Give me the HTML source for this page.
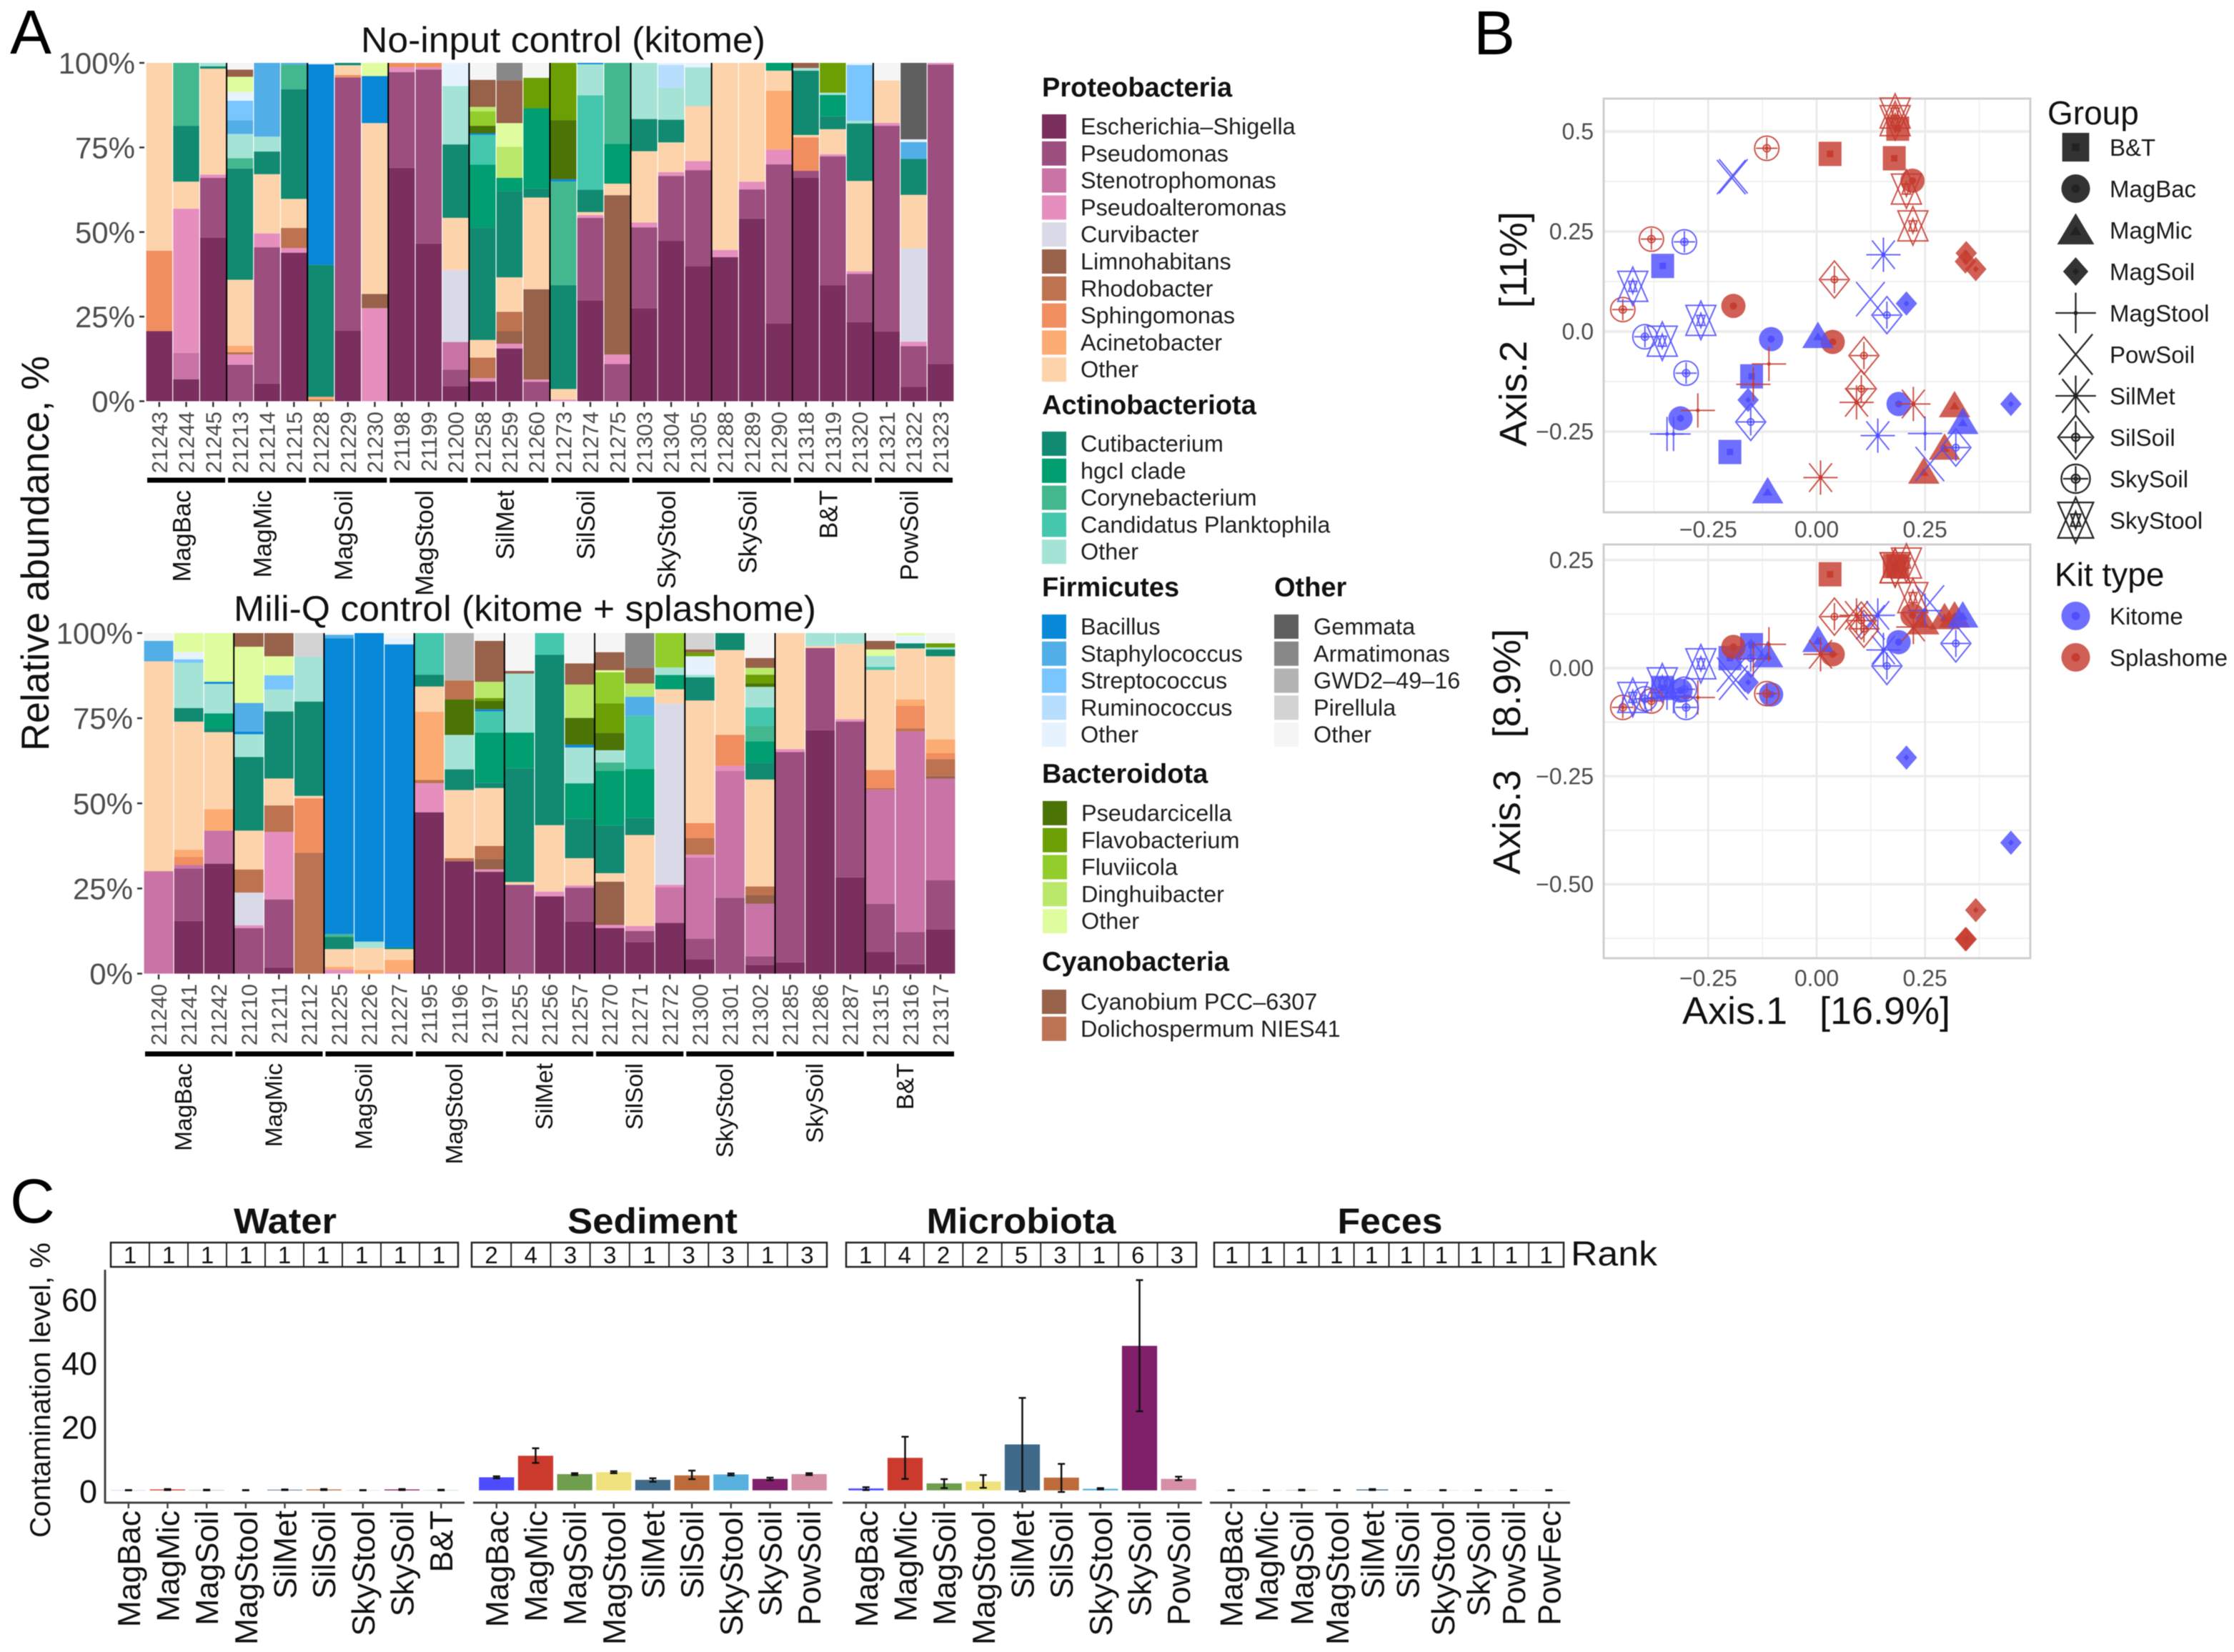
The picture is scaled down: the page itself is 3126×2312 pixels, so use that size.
<!DOCTYPE html>
<html lang="en">
<head>
<meta charset="utf-8">
<title>Contamination analysis figure</title>
<style>
html,body{margin:0;padding:0;background:#fff}
svg{display:block;filter:blur(.6px)}
text{font-family:"Liberation Sans",Arial,sans-serif}
.tax{font-size:32.4px;fill:#1f1f1f}
.hd{font-size:38px;font-weight:700;fill:#111}
.leg{font-size:33px;fill:#1a1a1a}
.lt{font-size:46px;fill:#111}
.panel{font-size:87px;fill:#000}
.ttl{font-size:50px;fill:#111}
.axt{font-size:54px;fill:#111}
</style>
</head>
<body>
<svg id="fig" xmlns="http://www.w3.org/2000/svg" width="3126" height="2312" viewBox="0 0 3126 2312">
<rect width="3126" height="2312" fill="#fff"/>

<text class="panel" x="14" y="75">A</text>
<text class="panel" x="2062" y="76">B</text>
<text class="panel" x="14" y="1711">C</text>

<text class="ttl" x="505" y="73" textLength="566" lengthAdjust="spacingAndGlyphs">No-input control (kitome)</text>
<text class="ttl" x="327" y="869" textLength="815" lengthAdjust="spacingAndGlyphs">Mili-Q control (kitome + splashome)</text>
<text transform="translate(68,1051) rotate(-90)" font-size="55" fill="#111" textLength="553" lengthAdjust="spacingAndGlyphs">Relative abundance, %</text>

<g id="stackTop"></g>
<g id="stackBottom"></g>

<g>
<text class="hd" x="1458" y="135">Proteobacteria</text>
<g><rect x="1458" y="160" width="34" height="34" fill="#7b2f5e"/><text class="tax" x="1512" y="188">Escherichia–Shigella</text></g>
<g><rect x="1458" y="197.8" width="34" height="34" fill="#9c4f7e"/><text class="tax" x="1512" y="225.8">Pseudomonas</text></g>
<g><rect x="1458" y="235.6" width="34" height="34" fill="#c973a6"/><text class="tax" x="1512" y="263.6">Stenotrophomonas</text></g>
<g><rect x="1458" y="273.4" width="34" height="34" fill="#e68fbf"/><text class="tax" x="1512" y="301.4">Pseudoalteromonas</text></g>
<g><rect x="1458" y="311.2" width="34" height="34" fill="#d9d9e8"/><text class="tax" x="1512" y="339.2">Curvibacter</text></g>
<g><rect x="1458" y="349" width="34" height="34" fill="#97614a"/><text class="tax" x="1512" y="377">Limnohabitans</text></g>
<g><rect x="1458" y="386.8" width="34" height="34" fill="#bd7250"/><text class="tax" x="1512" y="414.8">Rhodobacter</text></g>
<g><rect x="1458" y="424.6" width="34" height="34" fill="#f08e60"/><text class="tax" x="1512" y="452.6">Sphingomonas</text></g>
<g><rect x="1458" y="462.4" width="34" height="34" fill="#fcac72"/><text class="tax" x="1512" y="490.4">Acinetobacter</text></g>
<g><rect x="1458" y="500.2" width="34" height="34" fill="#fdd3ac"/><text class="tax" x="1512" y="528.2">Other</text></g>

<text class="hd" x="1458" y="579.5">Actinobacteriota</text>
<g><rect x="1458" y="604" width="34" height="34" fill="#128a72"/><text class="tax" x="1512" y="632">Cutibacterium</text></g>
<g><rect x="1458" y="641.8" width="34" height="34" fill="#009e70"/><text class="tax" x="1512" y="669.8">hgcI clade</text></g>
<g><rect x="1458" y="679.6" width="34" height="34" fill="#43b88f"/><text class="tax" x="1512" y="707.6">Corynebacterium</text></g>
<g><rect x="1458" y="717.4" width="34" height="34" fill="#45c7ad"/><text class="tax" x="1512" y="745.4">Candidatus Planktophila</text></g>
<g><rect x="1458" y="755.2" width="34" height="34" fill="#a4e3d5"/><text class="tax" x="1512" y="783.2">Other</text></g>

<text class="hd" x="1458" y="834.5">Firmicutes</text>
<g><rect x="1458" y="860" width="34" height="34" fill="#0a88d8"/><text class="tax" x="1512" y="888">Bacillus</text></g>
<g><rect x="1458" y="897.8" width="34" height="34" fill="#52aee6"/><text class="tax" x="1512" y="925.8">Staphylococcus</text></g>
<g><rect x="1458" y="935.6" width="34" height="34" fill="#78c6fd"/><text class="tax" x="1512" y="963.6">Streptococcus</text></g>
<g><rect x="1458" y="973.4" width="34" height="34" fill="#b8defd"/><text class="tax" x="1512" y="1001.4">Ruminococcus</text></g>
<g><rect x="1458" y="1011.2" width="34" height="34" fill="#e6f3fe"/><text class="tax" x="1512" y="1039.2">Other</text></g>

<text class="hd" x="1783" y="834.5">Other</text>
<g><rect x="1783" y="860" width="34" height="34" fill="#5f5f5f"/><text class="tax" x="1838" y="888">Gemmata</text></g>
<g><rect x="1783" y="897.8" width="34" height="34" fill="#888888"/><text class="tax" x="1838" y="925.8">Armatimonas</text></g>
<g><rect x="1783" y="935.6" width="34" height="34" fill="#b3b3b3"/><text class="tax" x="1838" y="963.6">GWD2–49–16</text></g>
<g><rect x="1783" y="973.4" width="34" height="34" fill="#d3d3d3"/><text class="tax" x="1838" y="1001.4">Pirellula</text></g>
<g><rect x="1783" y="1011.2" width="34" height="34" fill="#f5f5f5"/><text class="tax" x="1838" y="1039.2">Other</text></g>

<text class="hd" x="1458" y="1095.6">Bacteroidota</text>
<g><rect x="1459" y="1121" width="34" height="34" fill="#4c7306"/><text class="tax" x="1513" y="1149">Pseudarcicella</text></g>
<g><rect x="1459" y="1158.8" width="34" height="34" fill="#6b9f04"/><text class="tax" x="1513" y="1186.8">Flavobacterium</text></g>
<g><rect x="1459" y="1196.6" width="34" height="34" fill="#93cd2b"/><text class="tax" x="1513" y="1224.6">Fluviicola</text></g>
<g><rect x="1459" y="1234.4" width="34" height="34" fill="#bae86a"/><text class="tax" x="1513" y="1262.4">Dinghuibacter</text></g>
<g><rect x="1459" y="1272.2" width="34" height="34" fill="#dffd9e"/><text class="tax" x="1513" y="1300.2">Other</text></g>

<text class="hd" x="1458" y="1358.6">Cyanobacteria</text>
<g><rect x="1458" y="1385" width="34" height="34" fill="#98624b"/><text class="tax" x="1512" y="1413">Cyanobium PCC–6307</text></g>
<g><rect x="1458" y="1422.8" width="34" height="34" fill="#bc7354"/><text class="tax" x="1512" y="1450.8">Dolichospermum NIES41</text></g>
</g>

<g id="pcoaTop"></g>
<g id="pcoaBottom"></g>
<text class="axt" transform="translate(2136,625) rotate(-90)" textLength="329" lengthAdjust="spacingAndGlyphs">Axis.2&#160;&#160;&#160;[11%]</text>
<text class="axt" transform="translate(2127,1224) rotate(-90)" textLength="344" lengthAdjust="spacingAndGlyphs">Axis.3&#160;&#160;&#160;[8.9%]</text>
<text class="axt" x="2354" y="1433" textLength="375" lengthAdjust="spacingAndGlyphs">Axis.1&#160;&#160;&#160;[16.9%]</text>

<text class="lt" x="2865" y="174">Group</text>
<g id="groupLegend"></g>
<text class="lt" x="2875" y="820">Kit type</text>
<g id="kitLegend"></g>

<text x="399" y="1726" text-anchor="middle" font-size="50" font-weight="700" fill="#111" textLength="144" lengthAdjust="spacingAndGlyphs">Water</text>
<text x="913" y="1726" text-anchor="middle" font-size="50" font-weight="700" fill="#111" textLength="238" lengthAdjust="spacingAndGlyphs">Sediment</text>
<text x="1429" y="1726" text-anchor="middle" font-size="50" font-weight="700" fill="#111" textLength="265" lengthAdjust="spacingAndGlyphs">Microbiota</text>
<text x="1945" y="1726" text-anchor="middle" font-size="50" font-weight="700" fill="#111" textLength="147" lengthAdjust="spacingAndGlyphs">Feces</text>
<text x="2198" y="1771" font-size="48" fill="#111" textLength="121" lengthAdjust="spacingAndGlyphs">Rank</text>
<text transform="translate(70,2152) rotate(-90)" font-size="40" fill="#111" textLength="413" lengthAdjust="spacingAndGlyphs">Contamination level, %</text>
<g id="contam"></g>
</svg>

<script>
/* ---------- Panel A data ---------- */
const taxonColors = ['#7b2f5e','#9c4f7e','#c973a6','#e68fbf','#d9d9e8','#97614a','#bd7250','#f08e60','#fcac72','#fdd3ac','#128a72','#009e70','#43b88f','#45c7ad','#a4e3d5','#0a88d8','#52aee6','#78c6fd','#b8defd','#e6f3fe','#4c7306','#6b9f04','#93cd2b','#bae86a','#dffd9e','#98624b','#bc7354','#5f5f5f','#888888','#b3b3b3','#d3d3d3','#f5f5f5'];
const percentTicks = [0,25,50,75,100];
const groupsTop = ['MagBac','MagMic','MagSoil','MagStool','SilMet','SilSoil','SkyStool','SkySoil','B&T','PowSoil'];
const groupsBottom = ['MagBac','MagMic','MagSoil','MagStool','SilMet','SilSoil','SkyStool','SkySoil','B&T'];
const samplesTop = ['21243','21244','21245','21213','21214','21215','21228','21229','21230','21198','21199','21200','21258','21259','21260','21273','21274','21275','21303','21304','21305','21288','21289','21290','21318','21319','21320','21321','21322','21323'];
const samplesBottom = ['21240','21241','21242','21210','21211','21212','21225','21226','21227','21195','21196','21197','21255','21256','21257','21270','21271','21272','21300','21301','21302','21285','21286','21287','21315','21316','21317'];
/* each sample: [taxon index, percent] from the bottom of the bar upward */
const stacksTop = [
[[0,20.7],[7,23.8],[9,55.5]],
[[0,6.5],[2,7.8],[3,42.6],[9,8],[10,16.5],[12,18.6]],
[[0,48.4],[1,17.6],[3,1],[9,31.3],[10,.7],[14,1]],
[[1,10.8],[3,3],[6,.7],[8,1.9],[9,19.5],[10,32.9],[12,3],[14,7.2],[16,4],[17,5.8],[19,2.6],[24,4.5],[5,2.1],[31,2]],
[[0,5.2],[1,40.3],[3,4.1],[9,17.5],[10,6.7],[14,4.4],[16,21.8]],
[[0,43.9],[3,1.4],[6,5.9],[9,8.6],[10,32.4],[12,7.3],[16,.5]],
[[6,.5],[8,.8],[10,39],[15,59.3],[19,.4]],
[[0,20.8],[1,74.9],[7,.7],[9,2.9],[10,.7]],
[[3,27.5],[5,4.2],[9,50.5],[15,13.9],[24,3.9]],
[[0,69],[1,28.3],[3,1.4],[7,1.3]],
[[0,46.6],[1,51.4],[3,.7],[7,1.3]],
[[0,4.5],[1,4.8],[2,8.2],[4,21.3],[9,15.4],[10,21.7],[14,17.3],[19,6.8]],
[[0,5.8],[3,1],[6,6.1],[9,5.2],[10,33.2],[11,18.6],[13,8.8],[15,.5],[20,2.2],[22,4.3],[23,1.3],[5,8],[31,5]],
[[0,15.6],[3,1.4],[5,3.7],[6,5.7],[9,10.2],[10,25.4],[11,4],[23,9.2],[24,7],[5,12.6],[28,5.2]],
[[1,5.7],[3,.7],[5,26.7],[9,27.1],[10,2.7],[11,23.7],[21,9],[31,4.4]],
[[3,.5],[9,3.1],[10,30.7],[12,30.6],[15,.7],[20,17.4],[21,17]],
[[0,29.8],[1,24.4],[3,.8],[9,.9],[10,6.6],[13,27.9],[14,9.2],[15,.4]],
[[1,11],[3,2.8],[5,47.1],[9,3.4],[11,11.8],[12,23.9]],
[[0,27.5],[1,23.9],[3,1.4],[9,21.1],[10,9.5],[14,16.6]],
[[0,47.4],[1,19.2],[3,1.1],[9,8.8],[10,6.7],[14,9.4],[18,6.8],[19,.6]],
[[0,39.9],[1,28.4],[3,2.7],[9,16.2],[14,11.5],[19,1.3]],
[[0,42.6],[3,2.1],[9,55.3]],
[[0,54],[1,8.6],[3,2.3],[9,35.1]],
[[0,23],[1,47],[3,4.4],[8,17.4],[9,5.9],[11,2.3]],
[[0,66],[1,2.1],[7,9.9],[9,.7],[10,19],[14,.8],[5,1.5]],
[[0,34.3],[1,38.1],[3,.6],[9,7.4],[10,3.8],[11,6.3],[14,.7],[21,8.8]],
[[0,23.4],[1,14.2],[3,.8],[9,26.7],[10,17],[14,.8],[17,16.5],[19,.6]],
[[0,20.6],[1,60.8],[3,.9],[9,12.5],[31,5.2]],
[[0,4.3],[1,12],[3,1.3],[4,27.6],[9,15.8],[10,10.6],[16,5],[19,.8],[27,22.6]],
[[0,11],[1,88.5],[3,.5]]
];
const stacksBottom = [
[[2,30.1],[9,61.6],[16,6],[31,2.3]],
[[0,15.5],[1,15.4],[2,1],[7,2.4],[8,2.1],[9,37.6],[10,4],[14,13.3],[17,1],[19,2.1],[24,5.6]],
[[0,32.3],[2,9.7],[8,6.3],[9,22.6],[10,1.1],[11,4.4],[14,8.7],[15,.6],[24,14.3]],
[[1,13.4],[3,.8],[4,9.6],[6,6.8],[9,11.4],[10,21.6],[14,6.7],[15,.8],[16,8.4],[24,16.5],[5,4]],
[[0,1.7],[1,20.1],[3,19.8],[6,7.8],[9,7.9],[10,19.7],[14,6.4],[17,4.2],[24,5.6],[5,6.8]],
[[26,35.5],[7,16],[9,.7],[10,27.7],[14,13.2],[30,6.9]],
[[3,1.2],[8,.8],[9,5.2],[10,3.6],[12,.8],[15,86.9],[16,1],[31,.5]],
[[8,1.1],[9,6.4],[14,1.9],[15,90.6]],
[[3,.3],[8,3.7],[9,3.2],[10,.5],[15,89],[19,1.9],[31,1.4]],
[[0,47.4],[3,8.5],[6,1],[8,20],[9,7.4],[10,3.5],[13,12.2]],
[[0,33],[6,.9],[9,20],[10,6.1],[14,10.1],[20,10.4],[6,5.6],[29,13.9]],
[[0,29.9],[3,.7],[5,3],[6,3.9],[9,17],[10,1.5],[11,14.8],[13,6.2],[15,.6],[20,2.5],[21,.8],[23,4.8],[5,12],[31,2.3]],
[[1,26.1],[9,.8],[10,33.4],[11,10.5],[14,17.3],[5,.8],[31,11.1]],
[[0,22.7],[3,1.4],[9,19.5],[10,50],[13,6.4]],
[[0,15.3],[1,9.9],[3,.7],[9,8],[10,11.6],[11,10.4],[14,10.5],[15,.8],[20,7.9],[23,9.8],[5,6.2],[31,8.9]],
[[0,13.4],[3,.9],[5,12.7],[9,2.5],[10,14],[11,16],[12,2.5],[14,3.6],[20,5.1],[21,8.7],[22,9.1],[24,.6],[5,5.3],[31,5.6]],
[[0,9.3],[1,3.2],[3,1.5],[9,26.7],[10,5],[11,14.4],[13,15.6],[16,5.6],[23,3.9],[5,4.6],[28,10.2]],
[[0,14.9],[2,10.4],[3,.8],[4,53.2],[9,4.2],[11,4.2],[14,2.2],[22,10.1]],
[[0,4.2],[1,6],[2,23.9],[3,.8],[6,4.9],[7,4.4],[9,36],[10,6.8],[14,.8],[19,5.4],[21,1.1],[5,.9],[30,4.8]],
[[1,22.3],[2,37.2],[3,1.5],[7,9.1],[9,24.9],[10,5]],
[[0,2.6],[1,2.5],[2,15.4],[5,2.5],[6,2.6],[9,31.4],[10,4.9],[11,6.3],[12,4.6],[13,5.4],[14,6],[20,1],[21,2.6],[23,2],[5,2.9],[31,7.3]],
[[0,3.3],[1,61.8],[3,.8],[9,34.1]],
[[0,71.5],[1,24.1],[9,.6],[14,3.8]],
[[0,28.3],[1,45.7],[3,.7],[9,22.1],[14,3.2]],
[[0,6.4],[1,14.1],[2,33.5],[6,.5],[7,5.3],[9,29.4],[13,.9],[14,3.2],[24,1.9],[5,2.5],[31,2.3]],
[[0,2.8],[1,9.4],[2,58.9],[6,.9],[7,6.6],[8,1.9],[9,15],[10,1.5],[19,2.3],[24,.7]],
[[0,13],[1,14.4],[2,29.9],[5,.7],[6,5],[7,1.8],[8,4],[9,24.4],[10,2],[14,.6],[21,1.2],[31,3]]
];

/* ---------- Panel B data ---------- */
const markerGroups = ['B&T','MagBac','MagMic','MagSoil','MagStool','PowSoil','SilMet','SilSoil','SkySoil','SkyStool'];
const kitNames = ['Kitome','Splashome'];
const pointGroup = [0,0,0,0,0,0,1,1,1,1,1,1,2,2,2,2,2,2,3,3,3,3,3,3,4,4,4,4,4,4,5,5,5,5,6,6,6,6,6,7,7,7,7,7,7,8,8,8,8,8,8,9,9,9,9,9,9,9];
const pointKit = [1,1,1,0,0,0,1,1,1,0,0,0,1,1,1,0,0,0,1,1,1,0,0,0,1,1,1,0,0,0,0,0,0,0,1,1,1,0,0,1,1,1,0,0,0,1,1,1,0,0,0,1,1,1,1,0,0,0];
const axis1Values = [.031,.179,.187,-.355,-.150,-.200,.221,-.192,.037,-.105,.189,-.314,.318,.295,.247,.003,.337,-.113,.345,.343,.367,.207,.448,-.158,-.110,-.274,-.146,.250,-.345,-.330,-.192,-.197,.124,.261,.223,.009,.092,.154,.141,.041,.109,.103,.162,.321,-.152,-.115,-.381,-.447,-.305,-.396,-.301,.181,.181,.207,.222,-.424,-.356,-.267];
const axis2Values = [.444,.433,.507,.164,-.112,-.301,.377,.064,-.026,-.019,-.181,-.217,-.184,-.290,-.350,-.011,-.226,-.399,.196,.175,.156,.070,-.181,-.171,-.081,-.197,-.132,-.255,-.256,-.256,.388,.386,.081,-.331,-.181,-.365,-.177,.192,-.260,.130,-.060,-.143,.041,-.290,-.226,.458,.231,.055,.224,-.013,-.104,.546,.527,.356,.264,.113,-.024,.028];
const axis3Values = [.217,.236,.236,-.046,.053,.023,.122,.049,.032,-.061,.060,-.052,.122,.118,.106,.065,.122,.030,-.627,-.627,-.560,-.207,-.404,-.033,.055,-.068,.021,.133,-.057,-.065,-.034,-.015,.106,.152,.095,.032,.122,.042,.122,.119,.091,.110,.005,.057,.023,-.059,-.076,-.091,-.049,-.071,-.091,.232,.232,.243,.163,-.068,-.034,.010];
const xTicksB = [-0.25,0,0.25];
const xTickLabelsB = ['−0.25','0.00','0.25'];
const yTicksAxis2 = [-0.25,0,0.25,0.5];
const yTickLabelsAxis2 = ['−0.25','0.0','0.25','0.5'];
const yTicksAxis3 = [-0.5,-0.25,0,0.25];
const yTickLabelsAxis3 = ['−0.50','−0.25','0.00','0.25'];

/* ---------- Panel C data ---------- */
const contamTicks = [0,20,40,60];
const categoriesWater = ['MagBac','MagMic','MagSoil','MagStool','SilMet','SilSoil','SkyStool','SkySoil','B&T'];
const valuesWater = [.05,.3,.1,.02,.2,.3,.05,.3,.1];
const lowerWater = [0,.1,0,0,.1,.1,0,.1,0];
const upperWater = [.1,.4,.2,.1,.3,.4,.1,.4,.2];
const ranksWater = [1,1,1,1,1,1,1,1,1];
const categoriesSediment = ['MagBac','MagMic','MagSoil','MagStool','SilMet','SilSoil','SkyStool','SkySoil','PowSoil'];
const valuesSediment = [4.1,10.85,5.1,5.7,3.3,4.7,5,3.6,5.1];
const lowerSediment = [3.8,8.6,4.8,5.4,2.7,3.5,4.7,3.2,4.8];
const upperSediment = [4.4,13.2,5.4,6,3.8,6.2,5.3,4,5.4];
const ranksSediment = [2,4,3,3,1,3,3,1,3];
const categoriesMicrobiota = ['MagBac','MagMic','MagSoil','MagStool','SilMet','SilSoil','SkyStool','SkySoil','PowSoil'];
const valuesMicrobiota = [.6,10.2,2.2,2.8,14.4,4,.5,45.3,3.6];
const lowerMicrobiota = [.1,3.6,.7,.8,-.3,-.5,.3,24.8,3.2];
const upperMicrobiota = [1,16.8,3.5,4.8,29,8.3,.7,65.9,4.3];
const ranksMicrobiota = [1,4,2,2,5,3,1,6,3];
const categoriesFeces = ['MagBac','MagMic','MagSoil','MagStool','SilMet','SilSoil','SkyStool','SkySoil','PowSoil','PowFec'];
const valuesFeces = [.02,.02,.1,.02,.3,.02,.05,.02,.05,.05];
const lowerFeces = [0,0,0,0,.1,0,0,0,0,0];
const upperFeces = [.1,.1,.2,.1,.4,.1,.1,.1,.1,.1];
const ranksFeces = [1,1,1,1,1,1,1,1,1,1];
const barColorByKit = {'MagBac':'#4d4dff','MagMic':'#cc3a2e','MagSoil':'#6f9e4f','MagStool':'#f0e27c','SilMet':'#3f6a8a','SilSoil':'#bd6b3a','SkyStool':'#58b0de','SkySoil':'#801f6a','PowSoil':'#d68fa5','B&T':'#7fcf8f','PowFec':'#e8c0c0'};

/* ---------- helpers ---------- */
const NS = 'http://www.w3.org/2000/svg';
function mk(parent, tag, attrs, txt) {
  const el = document.createElementNS(NS, tag);
  for (const k in attrs) el.setAttribute(k, attrs[k]);
  if (txt !== undefined) el.textContent = txt;
  parent.appendChild(el);
  return el;
}

/* ---------- Panel A ---------- */
function drawStack(root, samples, stacks, groups, L) {
  const bw = L.w / samples.length;
  const y = v => L.y0 - v * L.k;
  const cx = i => L.x0 + (i + 0.5) * bw;
  percentTicks.forEach(t => {
    const tick = mk(root, 'line', {x1: L.x0 - 9, x2: L.x0 - 2, y1: y(t), y2: y(t), stroke: '#333', 'stroke-width': 2.5});
    
    
    const lab = mk(root, 'text', {x: L.x0 - 15, y: y(t) + 15, 'text-anchor': 'end', 'font-size': 42, fill: '#4d4d4d'}, t + '%');
    
    
  });
  samples.forEach((s, i) => {
    let acc = 0;
    stacks[i].forEach(seg => {
      const r = mk(root, 'rect', {x: L.x0 + i * bw + 0.6, y: y(acc + seg[1]), width: bw - 1.2, height: seg[1] * L.k, fill: taxonColors[seg[0]]});
      
      
      acc += seg[1];
    });
    const tk = mk(root, 'line', {x1: cx(i), x2: cx(i), y1: L.y0 + 1, y2: L.y0 + 8, stroke: '#333', 'stroke-width': 2.5});
    
    
    const lb = mk(root, 'text', {transform: 'translate(' + (cx(i) + 11) + ',' + L.sy + ') rotate(-90)', 'text-anchor': 'end', 'font-size': 31, fill: '#4d4d4d'}, s);
    
    
  });
  const gw = 3 * bw;
  groups.forEach((g, i) => {
    const gx = L.x0 + i * gw;
    if (i > 0) {
      const sep = mk(root, 'line', {x1: gx, x2: gx, y1: y(100), y2: L.y0, stroke: '#000', 'stroke-width': 2});
      
      
    }
    const u = mk(root, 'rect', {x: gx + 2, y: L.uy, width: gw - 4, height: 7, fill: '#000'});
    
    
    const t = mk(root, 'text', {transform: 'translate(' + (gx + gw / 2 + L.gdx) + ',' + L.gy + ') rotate(-90)', 'text-anchor': 'end', 'font-size': L.gfs, fill: '#111'}, g);
    
    
  });
}
drawStack(document.getElementById('stackTop'), samplesTop, stacksTop, groupsTop, {x0: 204, w: 1131, y0: 561.5, k: 4.735, sy: 576, uy: 668.5, gy: 686, gdx: 6, gfs: 35});
drawStack(document.getElementById('stackBottom'), samplesBottom, stacksBottom, groupsBottom, {x0: 201, w: 1136, y0: 1362.6, k: 4.766, sy: 1377, uy: 1471.5, gy: 1488, gdx: 4, gfs: 33.5});

/* ---------- Panel B ---------- */
const xB = v => 2542 + 606.8 * v;
function drawMarker(parent, shape, cx, cy, col, op, k) {
  const g = mk(parent, 'g', {transform: 'translate(' + cx + ',' + cy + ') scale(' + k + ')'});
  const fill = {fill: col, 'fill-opacity': op};
  const innerFill = {fill: col, 'fill-opacity': 1};
  const line = {stroke: col, 'stroke-width': 2, fill: 'none', 'stroke-opacity': Math.min(1, op + .05)};
  const cross = h => { mk(g, 'path', Object.assign({d: 'M' + (-h) + ' 0H' + h + 'M0 ' + (-h) + 'V' + h}, line)); };
  if (shape === 0) { mk(g, 'rect', Object.assign({x: -16, y: -17, width: 32, height: 34}, fill)); mk(g, 'rect', Object.assign({x: -4.5, y: -4.5, width: 9, height: 9}, innerFill)); }
  if (shape === 1) { mk(g, 'circle', Object.assign({r: 17}, fill)); mk(g, 'circle', Object.assign({r: 5}, innerFill)); }
  if (shape === 2) { mk(g, 'polygon', Object.assign({points: '0,-20 22,17 -22,17'}, fill)); mk(g, 'polygon', Object.assign({points: '0,-5 7,6 -7,6'}, innerFill)); }
  if (shape === 3) { mk(g, 'polygon', Object.assign({points: '0,-17 15,0 0,17 -15,0'}, fill)); mk(g, 'polygon', Object.assign({points: '0,-4.5 4,0 0,4.5 -4,0'}, innerFill)); }
  if (shape === 4) { cross(24); mk(g, 'circle', Object.assign({r: 2.5}, innerFill)); }
  if (shape === 5) { mk(g, 'path', Object.assign({d: 'M-20 -24L20 24M-20 24L20 -24'}, line)); }
  if (shape === 6) { cross(24); mk(g, 'path', Object.assign({d: 'M-16 -20L16 20M-16 20L16 -20'}, line)); mk(g, 'circle', Object.assign({r: 3}, innerFill)); }
  if (shape === 7) { mk(g, 'polygon', Object.assign({points: '0,-26 21,0 0,26 -21,0'}, line)); cross(19); mk(g, 'circle', Object.assign({r: 4.5}, line)); mk(g, 'circle', Object.assign({r: 2}, innerFill)); }
  if (shape === 8) { mk(g, 'circle', Object.assign({r: 17}, line)); cross(15); mk(g, 'circle', Object.assign({r: 5}, line)); mk(g, 'circle', Object.assign({r: 3}, Object.assign({}, innerFill, {'fill-opacity': .8}))); }
  if (shape === 9) {
    mk(g, 'polygon', Object.assign({points: '0,-27 21,21 -21,21'}, line));
    mk(g, 'polygon', Object.assign({points: '0,27 21,-21 -21,-21'}, line));
    mk(g, 'polygon', Object.assign({points: '0,-10 6,7 -6,7'}, line));
    mk(g, 'polygon', Object.assign({points: '0,10 6,-7 -6,-7'}, line));
  }
  return g;
}
function drawPcoa(root, yBox, yVals, yTicks, yLabels, yFn, minorY, xLabelY) {
  const left = 2244, right = 2841;
  minorY.forEach(v => {
    const gl = mk(root, 'line', {x1: left, x2: right, y1: yFn(v), y2: yFn(v), stroke: '#f0f0f0', 'stroke-width': 2});
    
    
  });
  [-0.375, -0.125, 0.125, 0.375].forEach(v => {
    const gl = mk(root, 'line', {x1: xB(v), x2: xB(v), y1: yBox[0], y2: yBox[1], stroke: '#f0f0f0', 'stroke-width': 1.5});
    
    
  });
  xTicksB.forEach((v, i) => {
    const gl = mk(root, 'line', {x1: xB(v), x2: xB(v), y1: yBox[0], y2: yBox[1], stroke: '#e8e8e8', 'stroke-width': 2.5});
    
    
    const t = mk(root, 'text', {x: xB(v), y: xLabelY, 'text-anchor': 'middle', 'font-size': 32, fill: '#4d4d4d'}, xTickLabelsB[i]);
    
    
  });
  yTicks.forEach((v, i) => {
    const gl = mk(root, 'line', {x1: left, x2: right, y1: yFn(v), y2: yFn(v), stroke: '#ececec', 'stroke-width': 3.5});
    
    
    const t = mk(root, 'text', {x: 2230, y: yFn(v) + 11, 'text-anchor': 'end', 'font-size': 32, fill: '#4d4d4d'}, yLabels[i]);
    
    
  });
  const box = mk(root, 'rect', {x: left, y: yBox[0], width: right - left, height: yBox[1] - yBox[0], fill: 'none', stroke: '#cfcfcf', 'stroke-width': 3});
  
  
  axis1Values.forEach((v, i) => {
    const kit = pointKit[i];
    const m = drawMarker(root, pointGroup[i], xB(v), yFn(yVals[i]), kit ? '#c63c30' : '#4f4fff', .82, 1);
    
    
  });
}
drawPcoa(document.getElementById('pcoaTop'), [138, 717], axis2Values, yTicksAxis2, yTickLabelsAxis2, v => 464 - 560 * v, [-0.375, -0.125, 0.125, 0.375], 752);
drawPcoa(document.getElementById('pcoaBottom'), [762, 1341], axis3Values, yTicksAxis3, yTickLabelsAxis3, v => 935 - 605 * v, [-0.625, -0.375, -0.125, 0.125], 1380);

const groupLegend = document.getElementById('groupLegend');
markerGroups.forEach((g, i) => {
  const cy = 206 + i * 58;
  const m = drawMarker(groupLegend, i, 2904.5, cy, '#222', .92, 1.18);
  
  
  const t = mk(groupLegend, 'text', {x: 2952, y: cy + 12, class: 'leg'}, g);
  
  
});
const kitLegend = document.getElementById('kitLegend');
kitNames.forEach((k, i) => {
  const cy = 862 + i * 58;
  const m = drawMarker(kitLegend, 1, 2904.5, cy, i ? '#c63c30' : '#4f4fff', .82, 1.18);
  
  
  const t = mk(kitLegend, 'text', {x: 2952, y: cy + 12, class: 'leg'}, k);
  
  
});

/* ---------- Panel C ---------- */
const contam = document.getElementById('contam');
const yC = v => 2085.8 - 4.465 * v;
const axisLine = mk(contam, 'line', {x1: 147, x2: 147, y1: 1777, y2: 2104, stroke: '#444', 'stroke-width': 3});


contamTicks.forEach(t => {
  const lab = mk(contam, 'text', {x: 136, y: yC(t) + 17, 'text-anchor': 'end', 'font-size': 45, fill: '#111'}, t);
  
  
});
function drawFacet(cats, vals, lo, hi, ranks, ax0, ax1, box0, box1) {
  const unit = (ax1 - ax0) / (cats.length - 1 + 1.2);
  const cx = i => ax0 + (0.6 + i) * unit;
  const bw = unit * 0.9;
  const base = mk(contam, 'line', {x1: ax0, x2: ax1, y1: 2103, y2: 2103, stroke: '#444', 'stroke-width': 3});
  
  
  const cell = (box1 - box0) / cats.length;
  const rb = mk(contam, 'rect', {x: box0, y: 1739, width: box1 - box0, height: 34, fill: '#fff', stroke: '#222', 'stroke-width': 2.5});
  
  
  cats.forEach((c, i) => {
    if (i > 0) {
      const dv = mk(contam, 'line', {x1: box0 + i * cell, x2: box0 + i * cell, y1: 1739, y2: 1773, stroke: '#222', 'stroke-width': 2});
      
      
    }
    const rk = mk(contam, 'text', {x: box0 + (i + .5) * cell, y: 1768, 'text-anchor': 'middle', 'font-size': 33, fill: '#111'}, ranks[i]);
    
    
    const v = vals[i];
    const bar = mk(contam, 'rect', {x: cx(i) - bw / 2, y: yC(v), width: bw, height: yC(0) - yC(v), fill: barColorByKit[c]});
    
    
    const err = mk(contam, 'path', {d: 'M' + cx(i) + ' ' + yC(lo[i]) + 'V' + yC(hi[i]) + 'M' + (cx(i) - 5) + ' ' + yC(lo[i]) + 'h10M' + (cx(i) - 5) + ' ' + yC(hi[i]) + 'h10', stroke: '#111', 'stroke-width': 2.5, fill: 'none'});
    
    
    const tick = mk(contam, 'line', {x1: cx(i), x2: cx(i), y1: 2104, y2: 2111, stroke: '#444', 'stroke-width': 2.5});
    
    
    const lb = mk(contam, 'text', {transform: 'translate(' + (cx(i) + 16) + ',2114) rotate(-90)', 'text-anchor': 'end', 'font-size': 44.5, fill: '#111'}, c);
    
    
  });
}
drawFacet(categoriesWater, valuesWater, lowerWater, upperWater, ranksWater, 147, 650, 155, 641);
drawFacet(categoriesSediment, valuesSediment, lowerSediment, upperSediment, ranksSediment, 662, 1165, 660, 1157);
drawFacet(categoriesMicrobiota, valuesMicrobiota, lowerMicrobiota, upperMicrobiota, ranksMicrobiota, 1179, 1682, 1184, 1674);
drawFacet(categoriesFeces, valuesFeces, lowerFeces, upperFeces, ranksFeces, 1693, 2197, 1699, 2188);
</script>
</body>
</html>
